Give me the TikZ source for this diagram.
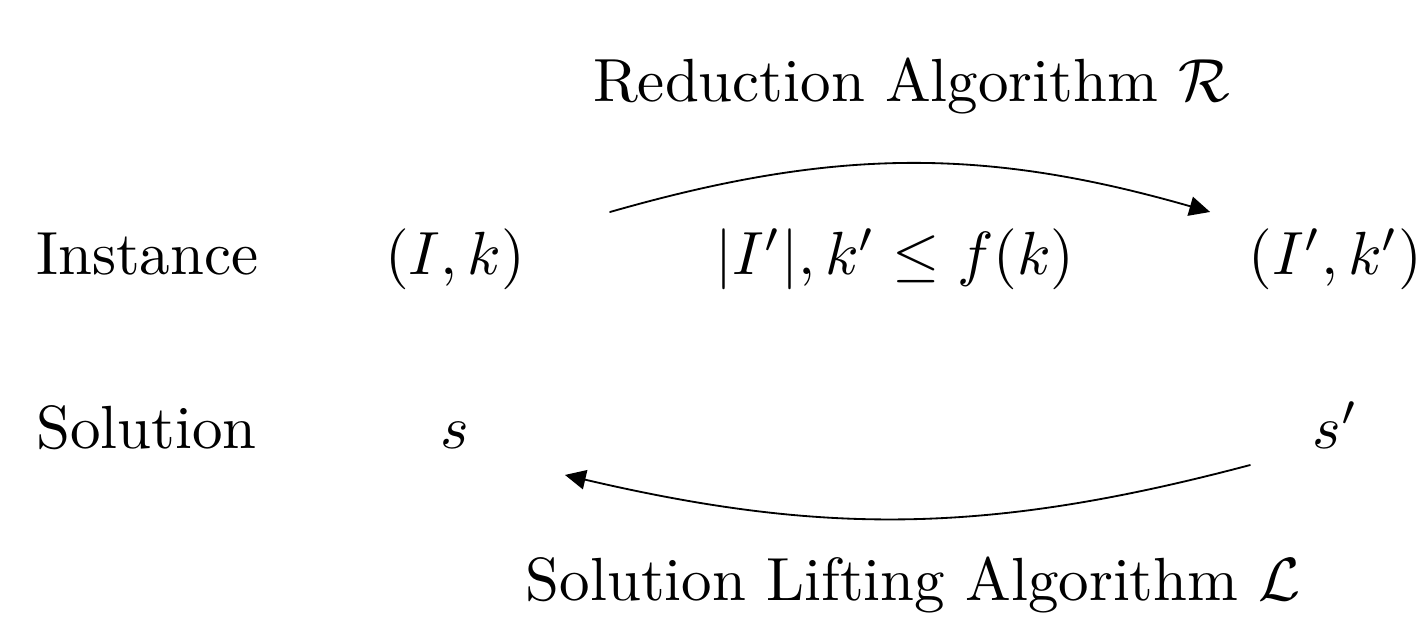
\documentclass[tikz,border=0pt]{standalone}
\usetikzlibrary{arrows.meta}
\begin{document}
\begin{tikzpicture}[line join=round, line cap=round,>={Triangle[length=3.4pt,width=3.2pt]}]
			\tikzset{lbl/.style={anchor=base,inner sep=0pt}}
			\def \yI{-1.585}	\def \yS{-2.583}
			\def \xL{2.623}		\def \xM{5.160}		\def \xR{7.700}
			\useasboundingbox (0,0) rectangle (8.209,-3.586);
			\node[lbl,anchor=base west] (inst) at (0.202,\yI) {Instance};
			\node[lbl] (Ik) at (\xL,\yI) {$(I,k)$};
			\node[lbl] (bound) at (\xM,\yI) {$|I'|,k'\leq f(k)$};
			\node[lbl] (Ikp) at (\xR,\yI) {$(I',k')$};
			\node[lbl,anchor=base west] (sol) at (0.202,\yS) {Solution};
			\node[lbl] (s) at (\xL,\yS) {$s$};
			\node[lbl] (sp) at (\xR,\yS) {$s'$};
			\node[lbl] (red) at (5.255,-0.588) {Reduction Algorithm $\mathcal{R}$};
			\node[lbl] (lift) at (5.265,-3.459) {Solution Lifting Algorithm $\mathcal{L}$};
			\coordinate (r1) at (3.517,-1.222);	\coordinate (r2) at (6.976,-1.222);
			\coordinate (l1) at (7.206,-2.681);	\coordinate (l2) at (3.257,-2.738);
			\draw[->,line width=0.3pt] (r1) to[bend left=16] (r2); %% R
			\draw[->,line width=0.3pt] (l1) to[bend left=14] (l2); %% L
		\end{tikzpicture}
\end{document}
